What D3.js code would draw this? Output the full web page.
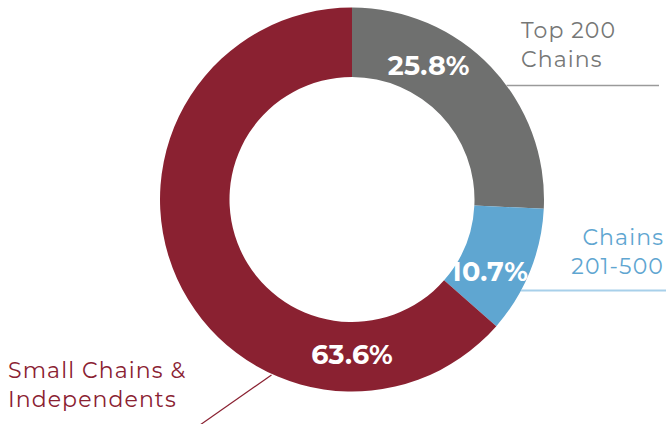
<!DOCTYPE html>
<html><head><meta charset="utf-8">
<script src="https://cdn.jsdelivr.net/npm/d3@7"></script>
<style>body{margin:0;background:#fff}svg{display:block}</style>
</head><body>
<svg id="c" width="666" height="424"></svg>
<script>
const categories = ["Top 200 Chains", "Chains 201-500", "Small Chains & Independents"];
const values = [25.8, 10.7, 63.6];
const valueLabels = ["25.8%", "10.7%", "63.6%"];
const nameLines = [["Top 200", "Chains"], ["Chains", "201-500"], ["Small Chains &", "Independents"]];
const colors = ["#6f706f", "#5fa6d1", "#8a2131"];
const textColors = ["#767776", "#5fa6d1", "#8a2131"];
const lineColors = ["#9a9a9a", "#a8d0ea", "#8a2131"];

const svg = d3.select("#c");
const cx = 352, cy = 199.5, rOuter = 192, rInner = 122.5;
const g = svg.append("g").attr("transform", `translate(${cx},${cy})`);

const pie = d3.pie().sort(null).value(d => d);
const arcs = pie(values);
const arc = d3.arc().innerRadius(rInner).outerRadius(rOuter);

g.selectAll("path.slice").data(arcs).enter().append("path")
  .attr("class", "slice").attr("d", arc).attr("fill", (d, i) => colors[i]);

// value label placement (angle in degrees clockwise from top, radius)
const labelAngles = [29.7, 117.4, 180];
const labelR = 155;
const font = "Montserrat, 'Open Sans', sans-serif";
g.selectAll("text.val").data(arcs).enter().append("text")
  .attr("class", "val")
  .attr("x", (d, i) => labelR * Math.sin(labelAngles[i] * Math.PI / 180))
  .attr("y", (d, i) => -labelR * Math.cos(labelAngles[i] * Math.PI / 180))
  .attr("dy", "0.36em")
  .attr("text-anchor", "middle")
  .attr("font-family", font).attr("font-weight", 700).attr("font-size", 27)
  .attr("letter-spacing", 0.3)
  .attr("fill", "#fff")
  .text((d, i) => valueLabels[i]);

// leader lines: start at outer edge
function edgeX(y) { return Math.sqrt(rOuter * rOuter - y * y); }
const y0 = 85.5 - cy, y1 = 290.5 - cy;
g.append("line").attr("x1", edgeX(y0)).attr("y1", y0).attr("x2", 659 - cx).attr("y2", y0)
  .attr("stroke", lineColors[0]).attr("stroke-width", 1.5);
g.append("line").attr("x1", edgeX(y1)).attr("y1", y1).attr("x2", 666 - cx).attr("y2", y1)
  .attr("stroke", lineColors[1]).attr("stroke-width", 2);
g.append("line").attr("x1", 271.5 - cx).attr("y1", 375 - cy).attr("x2", 200 - cx).attr("y2", 425 - cy)
  .attr("stroke", lineColors[2]).attr("stroke-width", 1.2);

// category labels
const namePos = [
  {x: 521, y: 38, anchor: "start"},
  {x: 664, y: 245, anchor: "end"},
  {x: 8, y: 378, anchor: "start"}
];
nameLines.forEach((lines, i) => {
  const t = svg.append("text")
    .attr("x", namePos[i].x).attr("y", namePos[i].y)
    .attr("text-anchor", namePos[i].anchor)
    .attr("font-family", font).attr("font-size", 22)
    .attr("letter-spacing", 1.1)
    .attr("fill", textColors[i]);
  lines.forEach((l, j) => {
    t.append("tspan").attr("x", namePos[i].x).attr("dy", j === 0 ? 0 : 29).text(l);
  });
});
</script>
</body></html>
